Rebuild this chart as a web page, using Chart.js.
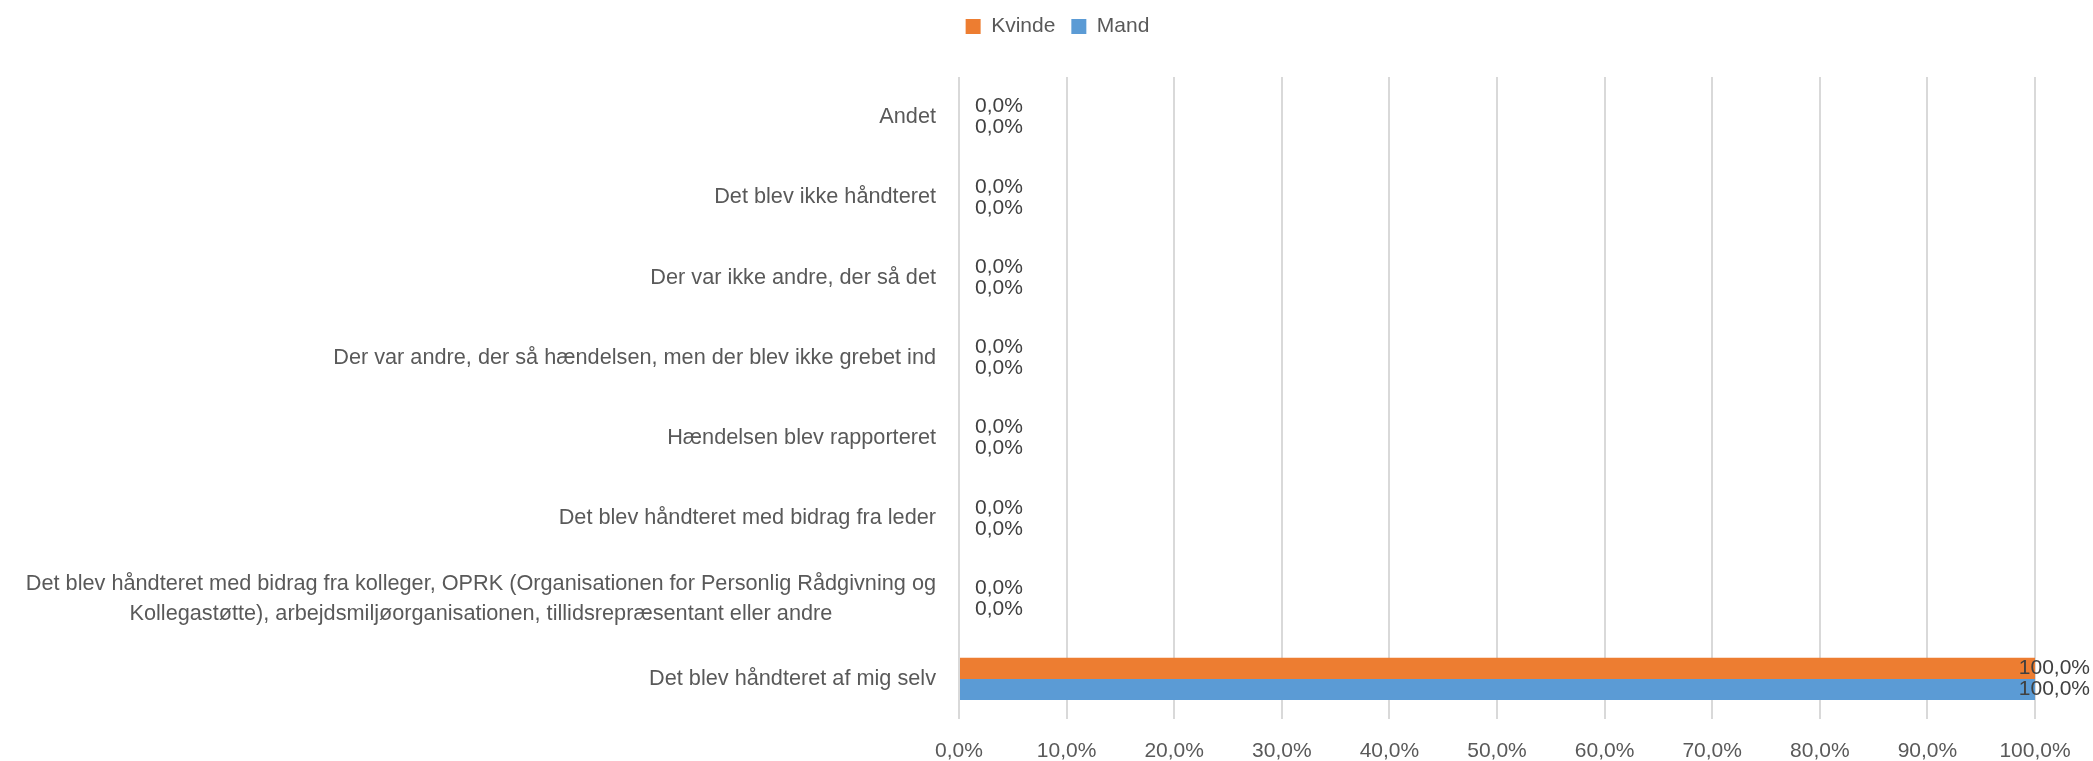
<!DOCTYPE html>
<html>
<head>
<meta charset="utf-8">
<script src="https://cdn.jsdelivr.net/npm/chart.js@4.4.1/dist/chart.umd.min.js"></script>
<style>
  html, body { margin: 0; padding: 0; background: #fff; }
  #wrap { width: 2093px; height: 761px; position: relative; }
</style>
</head>
<body>
<div id="wrap"><canvas id="chart"></canvas></div>
<script>
const categories = [
  "Andet",
  "Det blev ikke håndteret",
  "Der var ikke andre, der så det",
  "Der var andre, der så hændelsen, men der blev ikke grebet ind",
  "Hændelsen blev rapporteret",
  "Det blev håndteret med bidrag fra leder",
  ["Det blev håndteret med bidrag fra kolleger, OPRK (Organisationen for Personlig Rådgivning og",
   "Kollegastøtte), arbejdsmiljøorganisationen, tillidsrepræsentant eller andre"],
  "Det blev håndteret af mig selv",
];
const kvindeValues = [0, 0, 0, 0, 0, 0, 0, 100];
const mandValues = [0, 0, 0, 0, 0, 0, 0, 100];
const xTicks = [0, 10, 20, 30, 40, 50, 60, 70, 80, 90, 100];

const FONT = "'Liberation Sans', Arial, sans-serif";
const TEXT_COLOR = "#595959";
const LEGEND_HEIGHT = 77;
const LEGEND_SHIFT = 40;

function pct(v) {
  return v.toFixed(1).replace(".", ",") + "%";
}

// fixed legend height so the plot starts where the original does,
// and the legend is nudged right to sit over the whole canvas
const legendTweaks = {
  id: "legendTweaks",
  beforeLayout(chart) {
    const legend = chart.legend;
    if (!legend || legend._tweaked) return;
    const fit = legend.fit;
    legend.fit = function () {
      fit.call(this);
      this.height = LEGEND_HEIGHT;
    };
    const draw = legend.draw;
    legend.draw = function () {
      const ctx = this.ctx;
      ctx.save();
      ctx.translate(LEGEND_SHIFT, 0);
      draw.apply(this, arguments);
      ctx.restore();
    };
    legend._tweaked = true;
  },
};

// value labels next to each bar, pushed back inside the canvas when they would overflow
const valueLabels = {
  id: "valueLabels",
  afterDatasetsDraw(chart) {
    const ctx = chart.ctx;
    ctx.save();
    ctx.font = "21px " + FONT;
    ctx.fillStyle = "#404040";
    ctx.textBaseline = "middle";
    ctx.textAlign = "left";
    chart.data.datasets.forEach((ds, di) => {
      const meta = chart.getDatasetMeta(di);
      meta.data.forEach((bar, i) => {
        const text = pct(ds.data[i]);
        const w = ctx.measureText(text).width;
        const x = Math.min(bar.x + 16, chart.width - w - 3);
        ctx.fillText(text, x, bar.y);
      });
    });
    ctx.restore();
  },
};

// category labels: block right-aligned to the axis, lines centered within the block
const categoryLabels = {
  id: "categoryLabels",
  afterDraw(chart) {
    const ctx = chart.ctx;
    const scale = chart.scales.y;
    const right = chart.chartArea.left - 23;
    ctx.save();
    ctx.font = "21.7px " + FONT;
    ctx.fillStyle = TEXT_COLOR;
    ctx.textBaseline = "middle";
    ctx.textAlign = "center";
    categories.forEach((label, i) => {
      const lines = Array.isArray(label) ? label : [label];
      const blockW = Math.max(...lines.map((l) => ctx.measureText(l).width));
      const cx = right - blockW / 2;
      const py = scale.getPixelForValue(i);
      lines.forEach((line, j) => {
        ctx.fillText(line, cx, py + (j - (lines.length - 1) / 2) * 30);
      });
    });
    ctx.restore();
  },
};

new Chart(document.getElementById("chart"), {
  type: "bar",
  data: {
    labels: categories,
    datasets: [
      {
        label: "Kvinde",
        data: kvindeValues,
        backgroundColor: "#ED7D31",
        categoryPercentage: 0.525,
        barPercentage: 1,
      },
      {
        label: "Mand",
        data: mandValues,
        backgroundColor: "#5B9BD5",
        categoryPercentage: 0.525,
        barPercentage: 1,
      },
    ],
  },
  options: {
    indexAxis: "y",
    responsive: true,
    maintainAspectRatio: false,
    animation: false,
    layout: { padding: { top: 0, right: 58, left: 0, bottom: 0 } },
    scales: {
      x: {
        min: 0,
        max: 100,
        afterBuildTicks(scale) {
          scale.ticks = xTicks.map((v) => ({ value: v }));
        },
        afterFit(scale) {
          scale.height = 42;
        },
        grid: { color: "#d9d9d9", lineWidth: 2, drawTicks: false },
        border: { display: false },
        ticks: {
          padding: 20,
          color: TEXT_COLOR,
          font: { family: FONT, size: 21 },
          callback: (v) => pct(v),
        },
      },
      y: {
        afterFit(scale) {
          scale.width = 959;
        },
        grid: { display: false },
        border: { display: false },
        ticks: { display: false },
      },
    },
    plugins: {
      legend: {
        position: "top",
        labels: {
          boxWidth: 15,
          boxHeight: 15,
          padding: 16,
          color: TEXT_COLOR,
          font: { family: FONT, size: 21 },
        },
      },
      tooltip: { enabled: false },
    },
  },
  plugins: [legendTweaks, valueLabels, categoryLabels],
});
</script>
</body>
</html>
